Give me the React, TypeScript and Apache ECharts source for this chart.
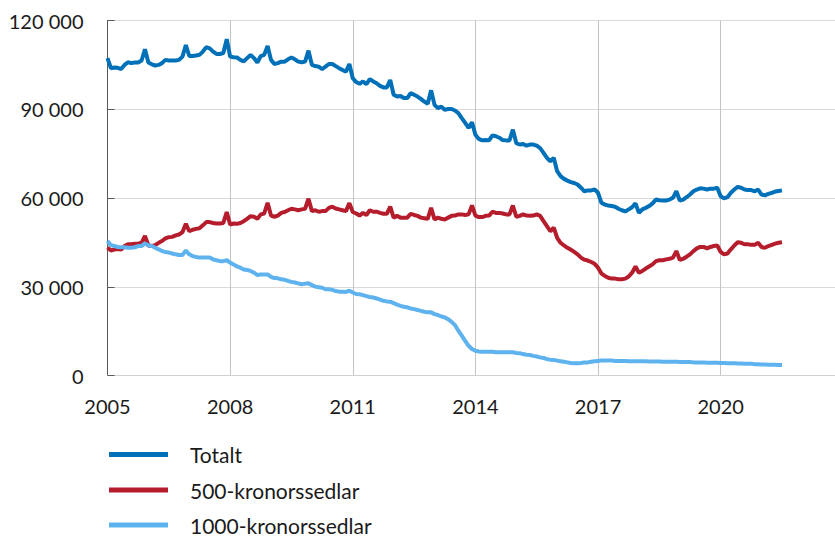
import React, { useEffect, useRef } from "react";
import * as echarts from "echarts";

// Values in thousands of kronor (monthly, Jan 2005 – Jul 2021)
const startYear = 2005;
const seriesNames = ["Totalt", "500-kronorssedlar", "1000-kronorssedlar"];
const yTicks = [0, 30000, 60000, 90000, 120000];
const xTickYears = [2005, 2008, 2011, 2014, 2017, 2020];

const totalt = [
  107.3, 103.9, 104.1, 104.0, 103.6, 105.0, 105.9, 105.6, 105.8, 105.8, 106.5, 110.3,
  105.8, 105.2, 104.8, 105.0, 105.6, 106.7, 106.5, 106.5, 106.5, 106.7, 107.8, 111.7,
  108.0, 108.0, 108.2, 108.4, 109.5, 111.0, 110.6, 109.5, 108.7, 108.7, 109.0, 113.7,
  107.8, 107.6, 107.5, 106.7, 106.2, 107.3, 108.4, 107.3, 105.8, 108.0, 108.4, 111.4,
  106.7, 105.3, 105.6, 106.1, 106.1, 106.9, 107.5, 106.9, 106.1, 105.9, 106.1, 109.8,
  105.0, 104.6, 104.4, 103.6, 104.4, 105.3, 105.3, 104.6, 103.9, 103.3, 102.7, 105.3,
  100.5, 99.2, 98.6, 99.4, 98.5, 100.2, 99.4, 98.8, 97.9, 97.4, 97.4, 99.9,
  94.9, 94.3, 94.5, 93.8, 93.8, 95.5, 94.9, 94.3, 93.5, 92.6, 91.9, 96.4,
  91.5, 90.4, 90.9, 89.8, 90.1, 90.1, 89.6, 88.7, 87.0, 85.4, 83.7, 85.6,
  81.4, 80.0, 79.5, 79.6, 79.5, 81.2, 80.9, 80.4, 79.6, 79.5, 79.5, 83.1,
  78.6, 78.1, 78.3, 77.7, 78.1, 78.1, 77.7, 76.9, 75.3, 73.6, 72.4, 73.6,
  69.1, 67.4, 66.5, 65.9, 65.4, 65.1, 64.6, 63.5, 62.3, 62.6, 62.6, 62.9,
  61.8, 58.4, 57.8, 57.5, 57.3, 57.1, 56.4, 55.9, 55.5, 56.2, 56.9, 58.2,
  55.0, 56.2, 56.7, 57.3, 58.2, 59.5, 59.3, 59.2, 59.2, 59.5, 60.1, 62.3,
  59.2, 59.5, 60.3, 61.2, 62.3, 62.9, 63.3, 63.2, 62.9, 63.2, 63.2, 63.5,
  60.6, 59.9, 60.3, 61.8, 62.9, 63.8, 63.5, 62.9, 62.7, 62.7, 62.3, 62.9,
  61.2, 60.9, 61.4, 61.8, 62.2, 62.4, 62.6,
];

const sedlar500 = [
  43.3, 42.3, 42.6, 42.8, 42.6, 43.8, 44.4, 44.4, 44.6, 44.6, 44.9, 47.2,
  44.0, 43.8, 44.1, 44.9, 45.5, 46.4, 46.8, 46.9, 47.4, 47.7, 48.5, 51.3,
  48.8, 49.3, 49.6, 49.8, 50.8, 51.9, 51.9, 51.6, 51.4, 51.4, 51.6, 55.3,
  51.1, 51.4, 51.3, 51.6, 52.2, 53.0, 53.9, 53.7, 53.0, 54.5, 54.8, 58.4,
  54.1, 53.7, 54.1, 55.0, 55.3, 55.9, 56.4, 56.2, 55.9, 56.2, 56.4, 59.8,
  55.6, 55.9, 55.4, 55.6, 55.6, 56.7, 57.1, 56.5, 56.2, 55.9, 55.6, 58.3,
  55.3, 54.8, 54.1, 55.0, 54.3, 55.9, 55.4, 55.4, 55.0, 54.7, 54.7, 57.1,
  53.4, 54.0, 53.4, 53.4, 53.4, 54.7, 54.3, 54.0, 53.4, 53.2, 53.0, 56.7,
  52.8, 53.4, 53.0, 52.8, 53.4, 54.0, 54.1, 54.5, 54.5, 54.3, 54.5, 57.5,
  54.1, 53.6, 53.6, 54.0, 54.1, 55.4, 55.0, 55.0, 54.8, 54.5, 54.5, 57.5,
  53.7, 54.0, 54.5, 54.1, 54.0, 54.1, 54.5, 54.0, 52.2, 50.5, 48.8, 50.0,
  46.6, 44.9, 44.0, 43.2, 42.6, 41.8, 41.0, 39.9, 39.2, 38.9, 38.4, 37.8,
  36.5, 34.5, 33.7, 33.1, 32.8, 32.8, 32.6, 32.6, 32.8, 33.5, 34.8, 36.9,
  34.8, 35.4, 36.2, 36.9, 37.6, 38.7, 39.0, 39.0, 39.3, 39.5, 39.9, 42.1,
  39.1, 39.5, 40.2, 41.0, 42.1, 43.0, 43.5, 43.5, 43.0, 43.5, 43.8, 44.0,
  41.8, 41.0, 41.3, 42.7, 44.0, 45.1, 44.9, 44.4, 44.4, 44.2, 44.2, 44.9,
  43.5, 43.2, 43.8, 44.2, 44.6, 44.9, 45.1,
];

const sedlar1000 = [
  45.5, 44.1, 43.8, 43.5, 43.4, 43.4, 43.2, 43.2, 43.4, 43.8, 43.8, 44.7,
  44.0, 43.8, 43.2, 42.7, 42.1, 41.8, 41.6, 41.3, 41.0, 40.8, 40.8, 42.3,
  41.0, 40.4, 40.1, 39.9, 39.9, 39.9, 39.9, 39.3, 39.0, 38.7, 38.7, 39.0,
  38.2, 37.6, 36.9, 36.5, 35.9, 35.7, 35.4, 34.8, 34.0, 34.2, 34.2, 34.2,
  33.4, 33.0, 32.9, 32.6, 32.4, 32.0, 31.7, 31.5, 31.2, 30.9, 31.1, 31.2,
  30.6, 30.1, 29.9, 29.7, 29.2, 29.2, 29.0, 28.6, 28.4, 28.4, 28.3, 28.7,
  28.1, 27.6, 27.5, 27.2, 26.9, 26.6, 26.4, 26.1, 25.7, 25.3, 25.1, 25.0,
  24.5, 24.0, 23.6, 23.3, 23.1, 22.7, 22.5, 22.2, 21.9, 21.6, 21.4, 21.4,
  20.8, 20.5, 20.0, 19.7, 19.1, 18.2, 17.1, 15.2, 13.5, 11.8, 10.1, 9.0,
  8.4, 8.2, 8.1, 8.1, 8.1, 8.1, 7.9, 7.9, 7.9, 7.9, 7.9, 7.9,
  7.7, 7.6, 7.3, 7.1, 7.0, 6.7, 6.5, 6.2, 6.0, 5.6, 5.4, 5.3,
  5.1, 4.9, 4.7, 4.5, 4.3, 4.2, 4.2, 4.3, 4.5, 4.5, 4.7, 4.9,
  5.0, 5.1, 5.1, 5.1, 5.1, 5.0, 5.0, 5.0, 5.0, 4.9, 4.9, 4.9,
  4.9, 4.9, 4.9, 4.8, 4.8, 4.8, 4.8, 4.7, 4.7, 4.7, 4.7, 4.7,
  4.6, 4.6, 4.6, 4.6, 4.5, 4.5, 4.5, 4.5, 4.4, 4.4, 4.4, 4.4,
  4.3, 4.3, 4.2, 4.2, 4.2, 4.1, 4.1, 4.0, 4.0, 4.0, 3.9, 3.9,
  3.8, 3.8, 3.7, 3.7, 3.7, 3.6, 3.6,
];

const colors = ["#0070b9", "#b51d2c", "#5eb3ef"];

const toPairs = (vals: number[]) =>
  vals.map((v, i) => [startYear + i / 12, v * 1000]);

const fmtThousands = (v: number) =>
  String(v).replace(/\B(?=(\d{3})+(?!\d))/g, " ");

const FONT = "Lato, 'Open Sans', sans-serif";

export default function App() {
  const ref = useRef<HTMLDivElement>(null);

  useEffect(() => {
    document.body.style.margin = "0";
    if (!ref.current) return;
    const chart = echarts.init(ref.current, undefined, { renderer: "svg" });
    const gridLeft = 107.5;
    const pxPerYear = 40.99;
    const rightEdge = 837;
    const xMax = startYear + (rightEdge - gridLeft) / pxPerYear;
    const legendCenters = [454, 489.5, 524.5];
    const legendFont = 21;
    const legendLine = 20;

    chart.setOption({
      animation: false,
      color: colors,
      grid: { left: gridLeft, right: 835 - rightEdge, top: 20.5, bottom: 162.3, containLabel: false },
      xAxis: {
        type: "value",
        min: startYear,
        max: xMax,
        interval: 3,
        axisLine: { show: true, lineStyle: { color: "#d0d0d0", width: 1 } },
        axisTick: { show: false },
        splitLine: { show: true, lineStyle: { color: "#c4c4c4", width: 1 } },
        axisLabel: {
          show: true,
          margin: 20,
          fontFamily: FONT,
          fontSize: 20,
          color: "#1a1a1a",
          showMaxLabel: false,
          formatter: (v: number) =>
            xTickYears.indexOf(Math.round(v)) >= 0 && Math.abs(v - Math.round(v)) < 1e-6
              ? String(Math.round(v))
              : "",
        },
      },
      yAxis: {
        type: "value",
        min: yTicks[0],
        max: yTicks[yTicks.length - 1],
        interval: yTicks[1] - yTicks[0],
        axisLine: { show: true, lineStyle: { color: "#595959", width: 1 } },
        axisTick: { show: true, inside: true, length: 7, lineStyle: { color: "#595959" } },
        splitLine: { show: true, lineStyle: { color: "#d9d9d9", width: 1 } },
        axisLabel: {
          margin: 24,
          fontFamily: FONT,
          fontSize: 20,
          color: "#1a1a1a",
          formatter: (v: number) => fmtThousands(v),
        },
      },
      legend: seriesNames.map((name, i) => ({
        orient: "vertical",
        left: 109,
        top: legendCenters[i] - legendLine / 2,
        padding: 0,
        itemWidth: 59,
        itemHeight: 5,
        icon: "rect",
        data: [name],
        textStyle: {
          fontFamily: FONT,
          fontSize: legendFont,
          color: "#1a1a1a",
          lineHeight: legendLine,
          padding: [0, 0, 0, 17],
        },
      })),
      series: [
        { name: seriesNames[0], data: toPairs(totalt) },
        { name: seriesNames[1], data: toPairs(sedlar500) },
        { name: seriesNames[2], data: toPairs(sedlar1000) },
      ].map((s, i) => ({
        ...s,
        type: "line",
        showSymbol: false,
        symbol: "none",
        lineStyle: { width: 4, color: colors[i] },
        itemStyle: { color: colors[i] },
        z: 2 + i,
      })),
    });

    return () => chart.dispose();
  }, []);

  return <div ref={ref} style={{ width: 835, height: 538 }} />;
}
